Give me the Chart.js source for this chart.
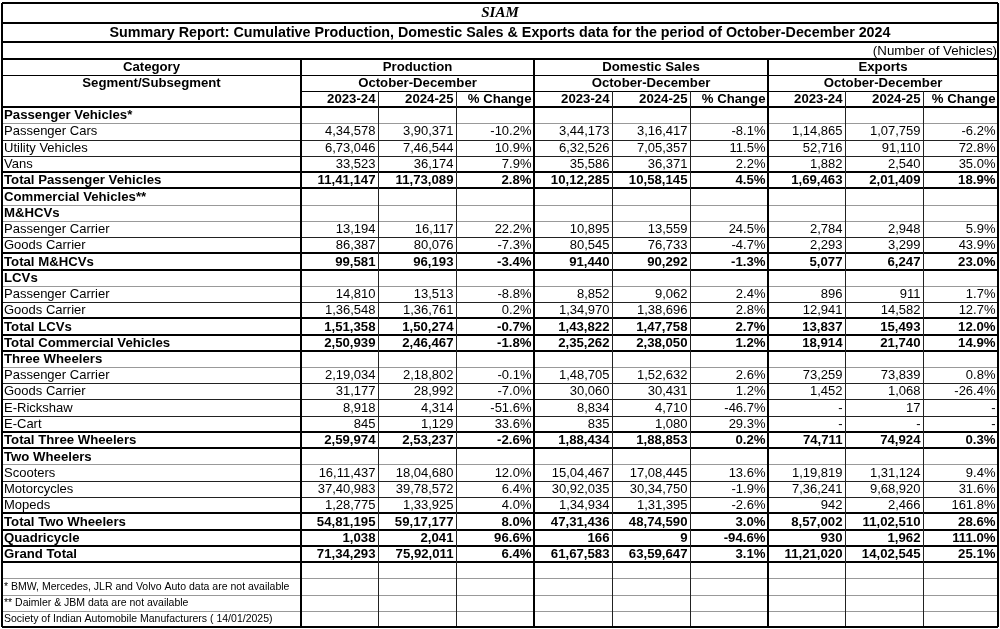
<!DOCTYPE html>
<html>
<head>
<meta charset="utf-8">
<script src="https://cdn.jsdelivr.net/npm/chart.js@4"></script>
<style>
  body { margin: 0; background: #fff; }
  #table { display: block; }
</style>
</head>
<body>
<canvas id="table" width="1000" height="629"></canvas>
<script>
// ---- data ----
const title = "Summary Report: Cumulative Production, Domestic Sales & Exports data for the period of October-December 2024";
const groups = ["Production", "Domestic Sales", "Exports"];
const period = "October-December";
const years = ["2023-24", "2024-25", "% Change"];

const rowLabels = [
  "Passenger Vehicles*", "Passenger Cars", "Utility Vehicles", "Vans", "Total Passenger Vehicles",
  "Commercial Vehicles**", "M&HCVs", "Passenger Carrier", "Goods Carrier", "Total M&HCVs",
  "LCVs", "Passenger Carrier", "Goods Carrier", "Total LCVs", "Total Commercial Vehicles",
  "Three Wheelers", "Passenger Carrier", "Goods Carrier", "E-Rickshaw", "E-Cart", "Total Three Wheelers",
  "Two Wheelers", "Scooters", "Motorcycles", "Mopeds", "Total Two Wheelers",
  "Quadricycle", "Grand Total"
];
// head = section title, item = normal row, total = bold row
const rowKinds = [
  "head", "item", "item", "item", "total",
  "head", "head", "item", "item", "total",
  "head", "item", "item", "total", "total",
  "head", "item", "item", "item", "item", "total",
  "head", "item", "item", "item", "total",
  "total", "total"
];

const prod2324 = [null, 434578, 673046, 33523, 1141147, null, null, 13194, 86387, 99581,
  null, 14810, 136548, 151358, 250939, null, 219034, 31177, 8918, 845, 259974,
  null, 1611437, 3740983, 128775, 5481195, 1038, 7134293];
const prod2425 = [null, 390371, 746544, 36174, 1173089, null, null, 16117, 80076, 96193,
  null, 13513, 136761, 150274, 246467, null, 218802, 28992, 4314, 1129, 253237,
  null, 1804680, 3978572, 133925, 5917177, 2041, 7592011];
const prodChg = [null, -10.2, 10.9, 7.9, 2.8, null, null, 22.2, -7.3, -3.4,
  null, -8.8, 0.2, -0.7, -1.8, null, -0.1, -7.0, -51.6, 33.6, -2.6,
  null, 12.0, 6.4, 4.0, 8.0, 96.6, 6.4];

const dom2324 = [null, 344173, 632526, 35586, 1012285, null, null, 10895, 80545, 91440,
  null, 8852, 134970, 143822, 235262, null, 148705, 30060, 8834, 835, 188434,
  null, 1504467, 3092035, 134934, 4731436, 166, 6167583];
const dom2425 = [null, 316417, 705357, 36371, 1058145, null, null, 13559, 76733, 90292,
  null, 9062, 138696, 147758, 238050, null, 152632, 30431, 4710, 1080, 188853,
  null, 1708445, 3034750, 131395, 4874590, 9, 6359647];
const domChg = [null, -8.1, 11.5, 2.2, 4.5, null, null, 24.5, -4.7, -1.3,
  null, 2.4, 2.8, 2.7, 1.2, null, 2.6, 1.2, -46.7, 29.3, 0.2,
  null, 13.6, -1.9, -2.6, 3.0, -94.6, 3.1];

const exp2324 = [null, 114865, 52716, 1882, 169463, null, null, 2784, 2293, 5077,
  null, 896, 12941, 13837, 18914, null, 73259, 1452, null, null, 74711,
  null, 119819, 736241, 942, 857002, 930, 1121020];
const exp2425 = [null, 107759, 91110, 2540, 201409, null, null, 2948, 3299, 6247,
  null, 911, 14582, 15493, 21740, null, 73839, 1068, 17, null, 74924,
  null, 131124, 968920, 2466, 1102510, 1962, 1402545];
const expChg = [null, -6.2, 72.8, 35.0, 18.9, null, null, 5.9, 43.9, 23.0,
  null, 1.7, 12.7, 12.0, 14.9, null, 0.8, -26.4, null, null, 0.3,
  null, 9.4, 31.6, 161.8, 28.6, 111.0, 25.1];

const notes = [
  "* BMW, Mercedes, JLR and Volvo Auto data are not available",
  "** Daimler & JBM data are not available",
  "Society of Indian Automobile Manufacturers ( 14/01/2025)"
];

// ---- helpers ----
function fmtIN(n) {
  if (n === null || n === undefined) return "-";
  const s = String(Math.abs(n));
  let last3 = s.slice(-3);
  let rest = s.slice(0, -3);
  if (rest) last3 = "," + last3;
  rest = rest.replace(/\B(?=(\d{2})+(?!\d))/g, ",");
  return (n < 0 ? "-" : "") + rest + last3;
}
function fmtPct(v) {
  if (v === null || v === undefined) return "-";
  return v.toFixed(1) + "%";
}

const valueCols = [
  [prod2324, fmtIN], [prod2425, fmtIN], [prodChg, fmtPct],
  [dom2324, fmtIN], [dom2425, fmtIN], [domChg, fmtPct],
  [exp2324, fmtIN], [exp2425, fmtIN], [expChg, fmtPct]
];

// layout in scale units (same as pixels here)
const colEdges = [2, 301, 378, 456, 534, 612, 690, 768, 845, 923, 998];
const headY = [3, 23, 42, 59, 75, 91, 107];
const rowH = 16.25;
const nBody = rowLabels.length + 1 + notes.length;
const FONT = "'Liberation Sans', Arial, sans-serif";

const tablePlugin = {
  id: "tablePlugin",
  afterDraw(chart) {
    const ctx = chart.ctx;
    const sx = chart.scales.x, sy = chart.scales.y;
    const X = v => sx.getPixelForValue(v);
    const Y = v => sy.getPixelForValue(v);
    const rowTop = i => headY[6] + i * rowH;
    const bottom = rowTop(nBody);

    function hline(x1, x2, y, w, c) {
      ctx.beginPath();
      ctx.lineWidth = w; ctx.strokeStyle = c;
      ctx.moveTo(X(x1), Math.round(Y(y)) + (w % 2 ? 0.5 : 0));
      ctx.lineTo(X(x2), Math.round(Y(y)) + (w % 2 ? 0.5 : 0));
      ctx.stroke();
    }
    function vline(x, y1, y2, w, c) {
      ctx.beginPath();
      ctx.lineWidth = w; ctx.strokeStyle = c;
      ctx.moveTo(Math.round(X(x)) + (w % 2 ? 0.5 : 0), Y(y1));
      ctx.lineTo(Math.round(X(x)) + (w % 2 ? 0.5 : 0), Y(y2));
      ctx.stroke();
    }
    function text(s, x, y, align, font) {
      ctx.font = font;
      ctx.textAlign = align;
      ctx.textBaseline = "middle";
      ctx.fillStyle = "#000";
      ctx.fillText(s, X(x), Y(y));
    }

    ctx.save();
    ctx.fillStyle = "#fff";
    ctx.fillRect(X(colEdges[0]), Y(headY[0]), X(colEdges[10]) - X(colEdges[0]), Y(bottom) - Y(headY[0]));

    // body row separators
    for (let i = 0; i < nBody; i++) {
      const y = rowTop(i + 1);
      const kind = rowKinds[i];
      const nextKind = rowKinds[i + 1];
      let w = 1, c = "#222";
      if (kind === "head" || i >= rowLabels.length) c = "#999";
      if (kind === "total" || nextKind === "total") { w = 2; c = "#000"; }
      hline(colEdges[0], colEdges[10], y, w, c);
    }

    // header lines
    hline(colEdges[0], colEdges[10], headY[4], 1, "#000");
    hline(colEdges[1], colEdges[10], headY[5], 1, "#000");
    hline(colEdges[0], colEdges[10], headY[6], 2, "#000");

    // vertical lines
    [2, 3, 5, 6, 8, 9].forEach(k => vline(colEdges[k], headY[5], bottom, 1, "#222"));
    [1, 4, 7].forEach(k => vline(colEdges[k], headY[3], bottom, 2, "#000"));

    // outer / heavy header lines
    [headY[0], headY[1], headY[2], headY[3]].forEach(y => hline(colEdges[0], colEdges[10], y, 2, "#000"));
    hline(colEdges[0], colEdges[10], bottom, 2, "#000");
    vline(colEdges[0], headY[0], bottom, 2, "#000");
    vline(colEdges[10], headY[0], bottom, 2, "#000");

    // header text
    const mid = (colEdges[0] + colEdges[10]) / 2;
    text("SIAM", mid, 13.5, "center", "italic bold 15px 'Liberation Serif', serif");
    text(title, mid, 33, "center", "bold 14.3px " + FONT);
    text("(Number of Vehicles)", colEdges[10] - 1, 51, "right", "13.3px " + FONT);
    const bold = "bold 13.2px " + FONT;
    const cat = (colEdges[0] + colEdges[1]) / 2;
    text("Category", cat, 67.5, "center", bold);
    text("Segment/Subsegment", cat, 83.5, "center", bold);
    groups.forEach((g, gi) => {
      const a = colEdges[1 + gi * 3], b = colEdges[4 + gi * 3];
      text(g, (a + b) / 2, 67.5, "center", bold);
      text(period, (a + b) / 2, 83.5, "center", bold);
      years.forEach((yl, yi) => text(yl, colEdges[2 + gi * 3 + yi] - 2.5, 99.5, "right", bold));
    });

    // body text
    rowLabels.forEach((lab, i) => {
      const kind = rowKinds[i];
      const yc = rowTop(i) + rowH / 2 + 0.5;
      const f = (kind === "item" ? "" : "bold 13.2px ") + (kind === "item" ? "13px " : "") + FONT;
      text(lab, colEdges[0] + 2, yc, "left", f);
      if (kind === "head") return;
      valueCols.forEach(([arr, fmt], ci) => {
        text(fmt(arr[i]), colEdges[ci + 2] - 2.5, yc, "right", f);
      });
    });
    notes.forEach((n, k) => {
      const yc = rowTop(rowLabels.length + 1 + k) + rowH / 2 + 0.5;
      text(n, colEdges[0] + 2, yc, "left", "10.5px " + FONT);
    });
    ctx.restore();
  }
};

new Chart(document.getElementById("table").getContext("2d"), {
  type: "scatter",
  data: { datasets: [{ data: [] }] },
  options: {
    responsive: false,
    animation: false,
    layout: { padding: 0 },
    plugins: { legend: { display: false }, tooltip: { enabled: false } },
    scales: {
      x: { type: "linear", min: 0, max: 1000, display: false },
      y: { type: "linear", min: 0, max: 629, reverse: true, display: false }
    }
  },
  plugins: [tablePlugin]
});
</script>
</body>
</html>
